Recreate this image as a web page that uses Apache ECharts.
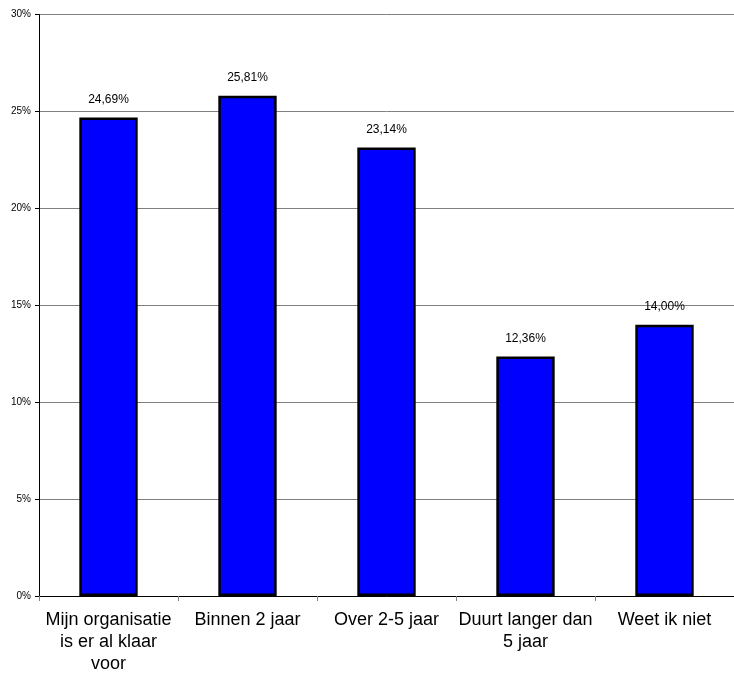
<!DOCTYPE html>
<html>
<head>
<meta charset="utf-8">
<script src="https://cdn.jsdelivr.net/npm/echarts@6/dist/echarts.min.js"></script>
<style>
html,body{margin:0;padding:0;background:#fff;}
#c{width:734px;height:675px;}
</style>
</head>
<body>
<div id="c"></div>
<script>
const categories = ['Mijn organisatie\nis er al klaar\nvoor', 'Binnen 2 jaar', 'Over 2-5 jaar', 'Duurt langer dan\n5 jaar', 'Weet ik niet'];
const values = [24.69, 25.81, 23.14, 12.36, 14.00];
const yTicks = [0, 5, 10, 15, 20, 25, 30];

const chart = echarts.init(document.getElementById('c'));
chart.setOption({
  animation: false,
  backgroundColor: '#fff',
  grid: { left: 39, top: 14.5, width: 702, height: 585.5 },
  xAxis: {
    type: 'category',
    data: categories,
    axisLine: { lineStyle: { color: '#000', width: 1 } },
    axisTick: { show: true, length: 5, lineStyle: { color: '#808080' } },
    axisLabel: {
      interval: 0,
      fontFamily: 'Liberation Sans, Arial',
      fontSize: 18,
      lineHeight: 22,
      color: '#000',
      margin: 13
    }
  },
  yAxis: {
    type: 'value',
    min: yTicks[0],
    max: yTicks[yTicks.length - 1],
    interval: 5,
    axisLine: { show: true, lineStyle: { color: '#000', width: 1 } },
    axisTick: { show: true, length: 4, lineStyle: { color: '#000' } },
    splitLine: { show: true, lineStyle: { color: '#808080', width: 1 } },
    axisLabel: {
      fontFamily: 'Liberation Sans, Arial',
      fontSize: 10,
      color: '#000',
      margin: 8,
      formatter: v => v + '%'
    }
  },
  series: [{
    type: 'bar',
    data: values,
    barWidth: '42%',
    itemStyle: { color: '#0000FF', borderColor: '#000', borderWidth: 2.5 },
    label: {
      show: true,
      position: 'top',
      distance: 12,
      fontFamily: 'Liberation Sans, Arial',
      fontSize: 12,
      color: '#000',
      formatter: p => p.value.toFixed(2).replace('.', ',') + '%'
    }
  }]
});
</script>
</body>
</html>
